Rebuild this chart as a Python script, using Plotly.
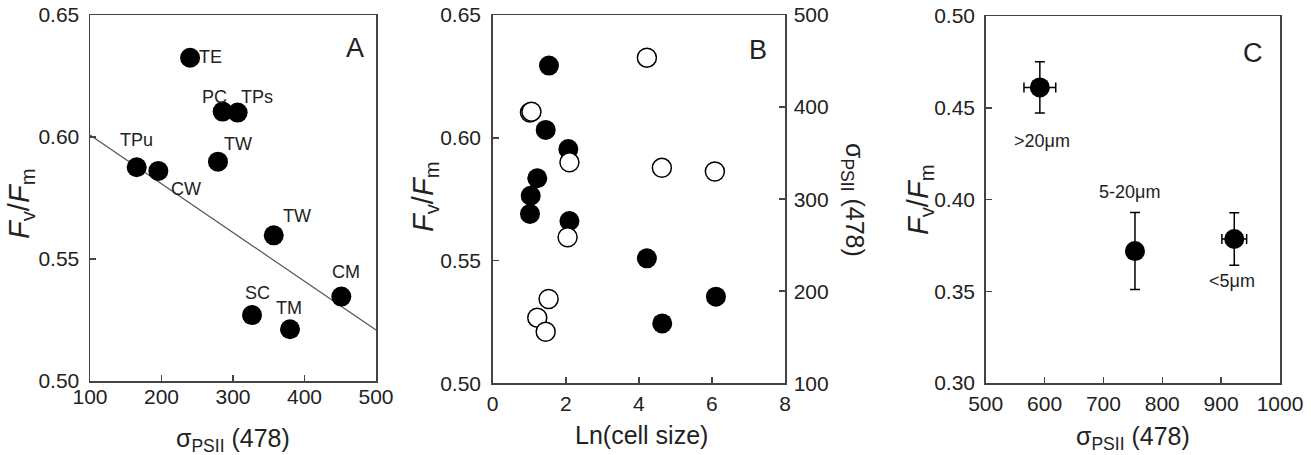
import plotly.graph_objects as go

# ---------------- Data ----------------
# Panel A
species_A = ["TE", "PC", "TPs", "TW", "TPu", "CW", "TW", "CM", "SC", "TM"]
sigma_A = [240, 285.5, 306.5, 279, 165.3, 195.6, 357, 451.5, 326.6, 379.7]
fvfm_A = [0.6325, 0.6104, 0.610, 0.5899, 0.5876, 0.5861, 0.5597, 0.5346, 0.527, 0.5212]
fit_sigma_A = [100, 500]
fit_fvfm_A = [0.6008, 0.5209]

# Panel B
lncell_fill_B = [1.54, 1.45, 2.07, 1.22, 1.04, 1.02, 2.10, 4.22, 6.11, 4.64]
fvfm_B = [0.6294, 0.6032, 0.5954, 0.5835, 0.5764, 0.569, 0.5661, 0.5509, 0.5353, 0.5244]
lncell_open_B = [4.22, 1.02, 1.06, 2.10, 4.63, 6.08, 2.05, 1.53, 1.22, 1.45]
sigma_B = [453.7, 394, 395, 340, 334, 330, 258.6, 191.6, 171.3, 156]

# Panel C
size_class_C = [">20\u03bcm", "5-20\u03bcm", "<5\u03bcm"]
sigma_C = [592, 753.6, 922.3]
sigma_err_C = [27, 0, 21]
fvfm_C = [0.4611, 0.3719, 0.3785]
fvfm_err_C = [0.014, 0.021, 0.0143]

# tick values
ticks_A_x = [100, 200, 300, 400, 500]
ticks_A_y = [0.50, 0.55, 0.60, 0.65]
ticks_B_x = [0, 2, 4, 6, 8]
ticks_B_y2 = [100, 200, 300, 400, 500]
ticks_C_x = [500, 600, 700, 800, 900, 1000]
ticks_C_y = [0.30, 0.35, 0.40, 0.45, 0.50]

# label offsets (pixels) for species / size-class labels
lab_dx_A = [20, -8, 19, 20, 0, 28, 23, 5, 5, -1]
lab_dy_A = [1, 15, 16, 18, 27, -18, 19, 25, 22, 21]
lab_dx_C = [2, -5, -2]
lab_dy_C = [-54, 59, -42]

W, H = 1311, 455
FONT = "Arial, Liberation Sans, Helvetica, sans-serif"
AX = "#444444"
TXT = "#222222"

def px(x):
    return x / W

def py(y):
    return 1 - y / H

fig = go.Figure()

# Panel A
fig.add_trace(go.Scatter(x=fit_sigma_A, y=fit_fvfm_A, mode="lines",
                         line=dict(color="#555555", width=1.2),
                         xaxis="x", yaxis="y", showlegend=False))
fig.add_trace(go.Scatter(x=sigma_A, y=fvfm_A, mode="markers",
                         marker=dict(size=20, color="black", line=dict(width=0)),
                         xaxis="x", yaxis="y", showlegend=False))

# Panel B
fig.add_trace(go.Scatter(x=lncell_fill_B, y=fvfm_B, mode="markers",
                         marker=dict(size=20, color="black", line=dict(width=0)),
                         xaxis="x2", yaxis="y2", showlegend=False))
fig.add_trace(go.Scatter(x=lncell_open_B, y=sigma_B, mode="markers",
                         marker=dict(size=19, color="white", line=dict(width=1.5, color="black")),
                         xaxis="x2", yaxis="y4", showlegend=False))

# Panel C
fig.add_trace(go.Scatter(x=sigma_C, y=fvfm_C, mode="markers",
                         marker=dict(size=20, color="black", line=dict(width=0)),
                         error_y=dict(type="data", array=fvfm_err_C, color="black", thickness=1.5, width=5),
                         error_x=dict(type="data", array=sigma_err_C, color="black", thickness=1.5, width=5),
                         xaxis="x3", yaxis="y3", showlegend=False))

common = dict(showgrid=False, zeroline=False, showline=True, linecolor=AX, linewidth=1.5,
              ticks="inside", ticklen=6, tickcolor=AX, tickwidth=1.5, mirror=True,
              automargin=False, ticklabeloverflow="allow",
              tickfont=dict(family=FONT, size=21, color=TXT))
common_nomirror = {k: v for k, v in common.items() if k != "mirror"}

yA = [py(381), py(15)]
yB = [py(383.3), py(15)]
yC = [py(383), py(16)]

fig.update_layout(
    template="none",
    width=W, height=H,
    margin=dict(l=0, r=0, t=0, b=0, pad=0),
    paper_bgcolor="white", plot_bgcolor="white",
    font=dict(family=FONT, color=TXT),
    showlegend=False,
    hovermode=False,
    xaxis=dict(domain=[px(90), px(376)], range=[100, 500], tickvals=ticks_A_x,
               ticklabelstandoff=-4, anchor="y", **common),
    yaxis=dict(domain=yA, range=[0.50, 0.65], tickvals=ticks_A_y, tickformat=".2f",
               ticklabelstandoff=5, anchor="x", **common),
    xaxis2=dict(domain=[px(492.7), px(785)], range=[0, 8], tickvals=ticks_B_x,
                ticklabelstandoff=1, anchor="y2", **common),
    yaxis2=dict(domain=yB, range=[0.50, 0.65], tickvals=ticks_A_y, tickformat=".2f",
                ticklabelstandoff=6, anchor="x2", **common),
    yaxis4=dict(range=[100, 500], tickvals=ticks_B_y2, overlaying="y2", side="right",
                anchor="x2", ticklabelstandoff=3, **common_nomirror),
    xaxis3=dict(domain=[px(985.7), px(1280)], range=[500, 1000], tickvals=ticks_C_x,
                ticklabelstandoff=1, anchor="y3", **common),
    yaxis3=dict(domain=yC, range=[0.30, 0.50], tickvals=ticks_C_y, tickformat=".2f",
                ticklabelstandoff=5, anchor="x3", **common),
)

ann = []
ctr = dict(xanchor="center", yanchor="middle", showarrow=False)
# species labels A
for s, x, y, dx, dy in zip(species_A, sigma_A, fvfm_A, lab_dx_A, lab_dy_A):
    ann.append(dict(x=x, y=y, xref="x", yref="y", text=s, xshift=dx, yshift=dy,
                    font=dict(size=18, family=FONT, color=TXT), **ctr))
# size class labels C
for s, x, y, dx, dy in zip(size_class_C, sigma_C, fvfm_C, lab_dx_C, lab_dy_C):
    ann.append(dict(x=x, y=y, xref="x3", yref="y3", text=s, xshift=dx, yshift=dy,
                    font=dict(size=18, family=FONT, color=TXT), **ctr))

title_font = dict(size=25, family=FONT, color=TXT)
ytitle_font = dict(size=29, family=FONT, color=TXT)
fvfm_title = "<i>F</i><sub>v</sub>/<i>F</i><sub>m</sub>"
sig_title = "\u03c3<sub>PSII</sub> (478)"
# y titles
for xc, yc in [(21, 204), (425, 197), (920, 200)]:
    ann.append(dict(x=px(xc), y=py(yc), xref="paper", yref="paper", text=fvfm_title,
                    textangle=-90, font=ytitle_font, **ctr))
# right title B
ann.append(dict(x=px(853), y=py(200), xref="paper", yref="paper", text=sig_title,
                textangle=90, font=title_font, **ctr))
# x titles
ann.append(dict(x=px(233), y=py(440), xref="paper", yref="paper", text=sig_title,
                font=title_font, **ctr))
ann.append(dict(x=px(641.7), y=py(435), xref="paper", yref="paper", text="Ln(cell size)",
                font=title_font, **ctr))
ann.append(dict(x=px(1132.7), y=py(438), xref="paper", yref="paper", text=sig_title,
                font=title_font, **ctr))
# panel letters
for t, xc, yc in [("A", 355, 48), ("B", 758.3, 50), ("C", 1253.3, 53)]:
    ann.append(dict(x=px(xc), y=py(yc), xref="paper", yref="paper", text=t,
                    font=dict(size=27, family=FONT, color=TXT), **ctr))

fig.update_layout(annotations=ann)
# remove the default 8px page margin so the figure sits at the window's corner
fig.write_html("out.html",
               config={"displayModeBar": False, "staticPlot": True},
               post_script="document.body.style.margin='0';document.body.style.overflow='hidden';")
